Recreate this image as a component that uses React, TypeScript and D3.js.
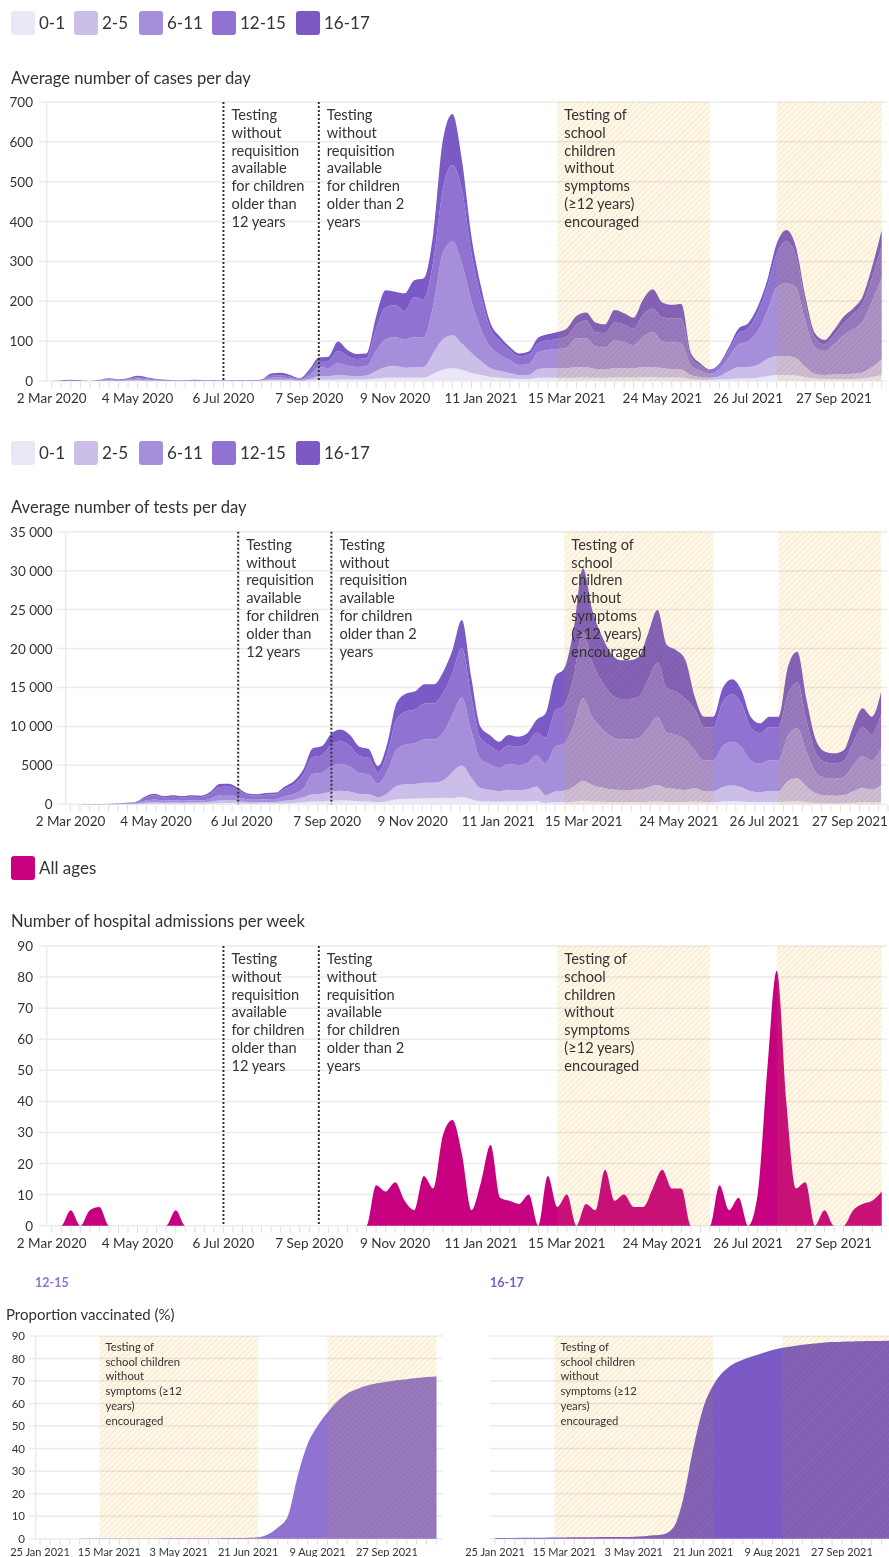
import React from "react";
import * as d3 from "d3";

const FONT = "Lato, 'Open Sans', sans-serif";
const INK = "#333";
const GRID = "#ebebeb";

// ---------- data ----------
const ageGroups = ["0-1", "2-5", "6-11", "12-15", "16-17"];
const ageColors = ["#ece7f6", "#cbbfe9", "#a68fda", "#9073d0", "#7b5ac5"];
const allAgesColor = "#c6007e";

// weekly points, Mondays from 2 Mar 2020 to 1 Nov 2021
const weeks = d3.timeMonday.range(new Date(2020, 2, 2), new Date(2021, 10, 2));

const cases01 = [
  0, 0, 0, 0, 0, 0, 0, 0, 0, 1,
  0, 0, 0, 0, 0, 0, 0, 0, 0, 0,
  0, 0, 0, 1, 1, 1, 0, 2, 3, 3,
  4, 4, 4, 4, 6, 8, 8, 8, 8, 8,
  18, 28, 32, 28, 20, 15, 10, 8, 6, 5,
  5, 8, 8, 8, 8, 9, 9, 8, 8, 9,
  9, 9, 10, 10, 9, 9, 9, 5, 3, 3,
  4, 5, 6, 6, 8, 12, 15, 15, 14, 10,
  6, 5, 5, 5, 5, 6, 10, 15,
];
const cases25 = [
  0, 0, 0, 0, 0, 0, 1, 0, 1, 1,
  1, 1, 0, 0, 0, 0, 0, 0, 0, 0,
  0, 0, 1, 2, 2, 2, 1, 3, 9, 9,
  11, 9, 8, 10, 19, 27, 30, 25, 27, 27,
  52, 77, 83, 66, 50, 35, 22, 17, 14, 10,
  10, 22, 24, 24, 24, 26, 26, 22, 21, 23,
  23, 23, 25, 25, 23, 21, 20, 10, 7, 5,
  8, 20, 29, 29, 32, 43, 48, 48, 44, 25,
  12, 10, 11, 12, 13, 16, 25, 40,
];
const cases611 = [
  0, 0, 1, 0, 0, 1, 2, 1, 2, 4,
  3, 1, 1, 1, 1, 1, 1, 0, 0, 1,
  1, 1, 1, 5, 6, 4, 2, 8, 23, 20,
  30, 25, 23, 23, 50, 70, 72, 72, 75, 75,
  120, 215, 235, 201, 130, 80, 53, 40, 32, 25,
  27, 42, 46, 48, 52, 72, 72, 57, 55, 70,
  65, 58, 77, 87, 68, 67, 66, 24, 16, 10,
  18, 35, 57, 65, 85, 120, 172, 182, 177, 115,
  67, 60, 76, 98, 112, 128, 165, 205,
];
const cases1215 = [
  0, 0, 1, 0, 0, 1, 2, 1, 2, 3,
  2, 1, 1, 0, 0, 1, 0, 1, 0, 0,
  0, 0, 1, 5, 5, 4, 2, 7, 15, 18,
  30, 24, 20, 20, 55, 80, 80, 70, 100, 95,
  110, 160, 192, 184, 120, 80, 45, 35, 26, 22,
  24, 23, 24, 25, 28, 35, 45, 35, 36, 45,
  45, 42, 55, 60, 60, 60, 62, 20, 12, 7,
  10, 18, 28, 32, 47, 60, 85, 105, 80, 45,
  23, 17, 23, 30, 38, 45, 60, 80,
];
const cases1617 = [
  0, 1, 1, 1, 0, 1, 2, 2, 2, 4,
  3, 2, 1, 1, 1, 1, 1, 1, 1, 1,
  1, 1, 1, 6, 7, 4, 2, 8, 9, 11,
  24, 16, 13, 12, 31, 43, 34, 45, 43, 53,
  70, 124, 128, 75, 42, 27, 15, 11, 8, 7,
  8, 14, 15, 18, 20, 21, 20, 25, 22, 31,
  28, 27, 38, 48, 37, 34, 36, 11, 6, 4,
  4, 8, 12, 13, 14, 18, 25, 29, 22, 17,
  12, 11, 13, 16, 14, 17, 27, 39,
];

const tests01 = [
  0, 1, 2, 2, 3, 6, 12, 18, 60, 80,
  60, 70, 60, 70, 66, 100, 160, 160, 130, 84,
  78, 87, 90, 138, 180, 270, 360, 375, 460, 480,
  450, 370, 360, 250, 390, 650, 710, 725, 770, 770,
  850, 790, 950, 660, 400, 360, 320, 360, 350, 360,
  430, 180, 250, 260, 340, 450, 370, 330, 290, 280,
  280, 280, 330, 370, 310, 300, 280, 350, 280, 280,
  370, 400, 370, 280, 260, 280, 280, 350, 390, 270,
  170, 140, 130, 140, 200, 250, 230, 290,
];
const tests25 = [
  0, 3, 4, 6, 7, 14, 28, 42, 140, 190,
  150, 160, 150, 160, 154, 220, 340, 370, 290, 196,
  182, 203, 210, 322, 420, 630, 940, 975, 1180, 1250,
  1160, 960, 920, 640, 1010, 1690, 1850, 1885, 2000, 2000,
  2210, 3370, 4020, 2790, 1690, 1510, 1370, 1510, 1480, 1550,
  1840, 990, 1390, 1480, 1900, 2580, 2120, 1840, 1650, 1570,
  1570, 1610, 1870, 2120, 1740, 1680, 1570, 1730, 1410, 1410,
  1860, 2010, 1830, 1410, 1300, 1410, 1410, 2650, 2940, 2010,
  1240, 1010, 980, 1050, 1490, 1850, 1690, 2170,
];
const tests611 = [
  0, 5, 8, 10, 12, 25, 50, 75, 250, 340,
  260, 290, 260, 290, 275, 400, 650, 660, 530, 350,
  325, 363, 375, 575, 750, 1125, 2590, 2700, 3280, 3450,
  3200, 2660, 2560, 1760, 2810, 4680, 5110, 5220, 5550, 5550,
  6120, 7330, 8750, 6070, 3690, 3290, 2970, 3290, 3210, 3370,
  4000, 4090, 5730, 6110, 7840, 10600, 8730, 7600, 6790, 6480,
  6480, 6630, 7680, 8730, 7160, 6930, 6480, 4840, 3940, 3940,
  5210, 5610, 5130, 3940, 3640, 3940, 3940, 5830, 6470, 4410,
  2720, 2230, 2160, 2300, 3290, 4060, 3710, 4770,
];
const tests1215 = [
  0, 8, 12, 16, 20, 40, 80, 120, 400, 540,
  420, 460, 420, 460, 440, 640, 1070, 1060, 840, 560,
  520, 580, 600, 920, 1200, 1800, 2160, 2250, 2730, 2880,
  2670, 2220, 2130, 1470, 2340, 3900, 4260, 4350, 4620, 4620,
  5100, 5340, 6380, 4420, 2690, 2400, 2170, 2400, 2340, 2460,
  2920, 3270, 4590, 4890, 6270, 8490, 6990, 6070, 5430, 5180,
  5180, 5310, 6150, 6990, 5720, 5540, 5180, 5250, 4270, 4270,
  5660, 6100, 5580, 4270, 3950, 4270, 4270, 5300, 5880, 4010,
  2470, 2030, 1960, 2090, 2990, 3700, 3370, 4340,
];
const tests1617 = [
  0, 3, 4, 6, 8, 15, 30, 45, 150, 200,
  160, 170, 160, 170, 165, 240, 380, 400, 310, 210,
  195, 217, 225, 345, 450, 675, 1150, 1200, 1450, 1540,
  1420, 1190, 1130, 780, 1250, 2080, 2270, 2320, 2460, 2460,
  2720, 2970, 3550, 2460, 1490, 1340, 1210, 1340, 1300, 1360,
  1630, 3150, 4420, 4720, 6050, 8180, 6740, 5860, 5240, 4990,
  4990, 5120, 5920, 6740, 5520, 5350, 4990, 1650, 1350, 1350,
  1790, 1920, 1760, 1350, 1250, 1350, 1350, 3540, 3920, 2680,
  1650, 1350, 1310, 1390, 1990, 2460, 2250, 2890,
];

const admissions = [
  0, 0, 5, 0, 5, 6, 0, 0, 0, 0,
  0, 0, 0, 5, 0, 0, 0, 0, 0, 0,
  0, 0, 0, 0, 0, 0, 0, 0, 0, 0,
  0, 0, 0, 0, 13, 11, 14, 8, 5, 16,
  12, 29, 34, 23, 5, 14, 26, 9, 8, 7,
  10, 0, 16, 6, 10, 0, 7, 5, 18, 8,
  10, 6, 6, 12, 18, 12, 12, 0, 0, 0,
  13, 5, 9, 0, 10, 50, 82, 40, 12, 14,
  0, 5, 0, 0, 5, 7, 8, 11,
];

// vaccination, weekly from 25 Jan 2021 to 1 Nov 2021 (%)
const vaccWeeks = d3.timeMonday.range(new Date(2021, 0, 25), new Date(2021, 10, 2));
const vacc1215 = [
  0, 0, 0, 0, 0, 0.05, 0.05, 0.05, 0.1, 0.1,
  0.1, 0.1, 0.1, 0.15, 0.15, 0.2, 0.2, 0.2, 0.25, 0.3,
  0.3, 0.4, 0.6, 2, 5, 10, 28, 42, 50, 56,
  61, 64.5, 66.5, 68, 69, 69.7, 70.3, 70.8, 71.3, 71.8,
  72,
];
const vacc1617 = [
  0.3, 0.3, 0.35, 0.4, 0.4, 0.45, 0.5, 0.55, 0.6, 0.6,
  0.65, 0.7, 0.75, 0.8, 0.9, 1.1, 1.5, 2, 5, 18,
  40, 58, 68, 74, 77.5, 79.5, 81, 82.5, 83.8, 84.8,
  85.5, 86.1, 86.6, 87, 87.3, 87.5, 87.6, 87.7, 87.8, 87.8,
  87.9,
];

const dateTicks = ["2020-03-02", "2020-05-04", "2020-07-06", "2020-09-07", "2020-11-09",
  "2021-01-11", "2021-03-15", "2021-05-24", "2021-07-26", "2021-09-27"];
const vaccTicks = ["2021-01-25", "2021-03-15", "2021-05-03", "2021-06-21", "2021-08-09", "2021-09-27"];

const testingChanges = [
  { date: "2020-07-06", lines: ["Testing", "without", "requisition", "available", "for children", "older than", "12 years"] },
  { date: "2020-09-14", lines: ["Testing", "without", "requisition", "available", "for children", "older than 2", "years"] },
];
const schoolPeriods = [["2021-03-08", "2021-06-28"], ["2021-08-16", "2021-11-01"]];
const schoolLines = ["Testing of", "school", "children", "without", "symptoms", "(≥12 years)", "encouraged"];
const schoolLinesVacc = ["Testing of", "school children", "without", "symptoms (≥12", "years)", "encouraged"];

// ---------- helpers ----------
const parse = d3.timeParse("%Y-%m-%d");
const fmtDate = d3.timeFormat("%-d %b %Y");
const spaced = (v: number) => (v >= 10000 ? d3.format(",")(v).replace(",", " ") : String(v));

function Legend({ y, items }: { y: number; items: { label: string; color: string; x: number }[] }) {
  return (
    <g>
      {items.map((it) => (
        <g key={it.label}>
          <rect x={it.x} y={y} width={24} height={24} rx={3} fill={it.color} />
          <text x={it.x + 28} y={y + 18} fontSize={17} fill={INK}>{it.label}</text>
        </g>
      ))}
    </g>
  );
}

// school-testing shading: a multiplied hatch plus a faint light wash on top
function Shade({ x, y, w, h }: { x: number; y: number; w: number; h: number }) {
  return (
    <g>
      <rect x={x} y={y} width={w} height={h} fill="url(#hatch)" style={{ mixBlendMode: "multiply" }} />
      <rect x={x} y={y} width={w} height={h} fill="#fff0c8" fillOpacity={0.07} />
    </g>
  );
}

type Cfg = {
  title: string; titleY: number; top: number; bottom: number;
  axisX: number; labelRight: number; gridLeft: number;
  yMax: number; yStep: number; xRange: [number, number]; tickRange?: [number, number];
};

function TimeChart({ cfg, series }: { cfg: Cfg; series: { key: string; color: string; values: number[] }[] }) {
  const x = d3.scaleTime().domain([weeks[0], weeks[weeks.length - 1]]).range(cfg.xRange);
  const xt = cfg.tickRange ? x.copy().range(cfg.tickRange) : x;
  const y = d3.scaleLinear().domain([0, cfg.yMax]).range([cfg.bottom, cfg.top]);

  const rows = weeks.map((d, i) => {
    const r: any = { date: d };
    series.forEach((s) => (r[s.key] = s.values[i]));
    return r;
  });
  const layers = d3.stack().keys(series.map((s) => s.key))(rows);
  const area = d3.area<any>()
    .x((d) => x(d.data.date))
    .y0((d) => y(d[0]))
    .y1((d) => y(d[1]))
    .curve(d3.curveMonotoneX);

  const yTicks = d3.range(0, cfg.yMax + 1, cfg.yStep);
  const minor = d3.timeMonday.range(xt.domain()[0], d3.timeDay.offset(xt.domain()[1], 1));
  const schoolX = x(parse(schoolPeriods[0][0])!) + 7;

  return (
    <g>
      <text x={11} y={cfg.titleY} fontSize={16.6} fill={INK}>{cfg.title}</text>
      {yTicks.map((t) => (
        <g key={t}>
          <line x1={cfg.gridLeft} x2={887} y1={y(t)} y2={y(t)} stroke={GRID} strokeWidth={1.5} />
          <text x={cfg.labelRight} y={y(t) + 5} textAnchor="end" fontSize={13.5} fill={INK}>{spaced(t)}</text>
        </g>
      ))}
      <line x1={cfg.axisX} x2={cfg.axisX} y1={cfg.top} y2={cfg.bottom} stroke={GRID} strokeWidth={1.5} />
      {layers.map((l, i) => (
        <path key={l.key} d={area(l) || ""} fill={series[i].color} />
      ))}
      {schoolPeriods.map(([a, b]) => (
        <Shade key={a} x={x(parse(a)!)} y={cfg.top} w={x(parse(b)!) - x(parse(a)!)} h={cfg.bottom - cfg.top} />
      ))}
      {testingChanges.map((c) => {
        const cx = x(parse(c.date)!);
        return (
          <g key={c.date}>
            <line x1={cx} x2={cx} y1={cfg.top} y2={cfg.bottom} stroke="#333" strokeWidth={2} strokeDasharray="2 2" />
            <text x={cx + 8} y={cfg.top + 18} fontSize={14.6} fill={INK}>
              {c.lines.map((s, i) => (
                <tspan key={i} x={cx + 8} dy={i === 0 ? 0 : 17.8}>{s}</tspan>
              ))}
            </text>
          </g>
        );
      })}
      <text x={schoolX} y={cfg.top + 18} fontSize={14.6} fill={INK}>
        {schoolLines.map((s, i) => (
          <tspan key={i} x={schoolX} dy={i === 0 ? 0 : 17.8}>{s}</tspan>
        ))}
      </text>
      {minor.map((d) => (
        <line key={+d} x1={xt(d)} x2={xt(d)} y1={cfg.bottom + 1} y2={cfg.bottom + 7} stroke="#ddd" strokeWidth={1} />
      ))}
      {dateTicks.map((s) => (
        <text key={s} x={xt(parse(s)!)} y={cfg.bottom + 22} textAnchor="middle" fontSize={13.5} fill={INK}>
          {fmtDate(parse(s)!)}
        </text>
      ))}
    </g>
  );
}

function VaccChart({ left, values, color, label, showAxis }: {
  left: number; values: number[]; color: string; label: string; showAxis: boolean;
}) {
  const top = 1336, bottom = 1538.7;
  const x = d3.scaleTime().domain([vaccWeeks[0], vaccWeeks[vaccWeeks.length - 1]]).range([left + 4.3, left + 400.8]);
  const y = d3.scaleLinear().domain([0, 90]).range([bottom, top]);
  const area = d3.area<number>()
    .x((_, i) => x(vaccWeeks[i]))
    .y0(bottom)
    .y1((v) => y(v))
    .curve(d3.curveMonotoneX);
  const ticks = d3.range(0, 91, 10);
  const gridL = showAxis ? left - 6.7 : left - 1;
  const minor = d3.timeMonday.range(x.domain()[0], d3.timeDay.offset(x.domain()[1], 1));
  const sx = x(parse(schoolPeriods[0][0])!) + 6;
  return (
    <g>
      <text x={left - 0.7} y={1287} fontSize={12.5} fontWeight={700} fill={color}>{label}</text>
      {ticks.map((t) => (
        <g key={t}>
          <line x1={gridL} x2={left + 407} y1={y(t)} y2={y(t)} stroke={GRID} strokeWidth={1.5} />
          {showAxis && (
            <text x={left - 10.7} y={y(t) + 4} textAnchor="end" fontSize={11.5} fill={INK}>{t}</text>
          )}
        </g>
      ))}
      {showAxis && <line x1={left} x2={left} y1={top} y2={bottom} stroke={GRID} strokeWidth={1.5} />}
      <path d={area(values) || ""} fill={color} />
      {schoolPeriods.map(([a, b]) => (
        <Shade key={a} x={x(parse(a)!)} y={top} w={x(parse(b)!) - x(parse(a)!)} h={bottom - top} />
      ))}
      <text x={sx} y={1351} fontSize={11.3} fill={INK}>
        {schoolLinesVacc.map((s, i) => (
          <tspan key={i} x={sx} dy={i === 0 ? 0 : 14.7}>{s}</tspan>
        ))}
      </text>
      {minor.map((d) => (
        <line key={+d} x1={x(d)} x2={x(d)} y1={bottom + 1} y2={bottom + 6} stroke="#ddd" strokeWidth={1} />
      ))}
      {vaccTicks.map((s) => (
        <text key={s} x={x(parse(s)!)} y={1556} textAnchor="middle" fontSize={11} fill={INK}>
          {fmtDate(parse(s)!)}
        </text>
      ))}
    </g>
  );
}

const legendXs = [11, 74, 139, 212, 296];

export default function App() {
  const ageLegend = ageGroups.map((g, i) => ({ label: g, color: ageColors[i], x: legendXs[i] }));
  const caseSeries = [cases01, cases25, cases611, cases1215, cases1617].map((v, i) => ({
    key: ageGroups[i], color: ageColors[i], values: v,
  }));
  const testSeries = [tests01, tests25, tests611, tests1215, tests1617].map((v, i) => ({
    key: ageGroups[i], color: ageColors[i], values: v,
  }));
  return (
    <div style={{ position: "absolute", left: 0, top: 0 }}>
      <svg width={889} height={1557} style={{ display: "block", fontFamily: FONT, background: "#fff" }}>
        <defs>
          <pattern id="hatch" patternUnits="userSpaceOnUse" width={4} height={4} patternTransform="rotate(45)">
            <rect width={4} height={4} fill="#fef9ee" />
            <line x1={0} y1={0} x2={0} y2={4} stroke="#f4e0b6" strokeWidth={1.3} />
          </pattern>
        </defs>
        <Legend y={11} items={ageLegend} />
        <TimeChart
          cfg={{ title: "Average number of cases per day", titleY: 84, top: 102, bottom: 381, axisX: 46.7,
            labelRight: 33, gridLeft: 38.7, yMax: 700, yStep: 100, xRange: [51.7, 881.7] }}
          series={caseSeries}
        />
        <Legend y={441} items={ageLegend} />
        <TimeChart
          cfg={{ title: "Average number of tests per day", titleY: 513, top: 531.7, bottom: 804.3, axisX: 65.7,
            labelRight: 52.7, gridLeft: 57.3, yMax: 35000, yStep: 5000, xRange: [70.5, 881.1], tickRange: [70.5, 897.5] }}
          series={testSeries}
        />
        <Legend y={856} items={[{ label: "All ages", color: allAgesColor, x: 11 }]} />
        <TimeChart
          cfg={{ title: "Number of hospital admissions per week", titleY: 927, top: 946, bottom: 1225.7, axisX: 46.7,
            labelRight: 33, gridLeft: 38.7, yMax: 90, yStep: 10, xRange: [51.7, 881.7] }}
          series={[{ key: "All ages", color: allAgesColor, values: admissions }]}
        />
        <text x={6} y={1320} fontSize={15} fill={INK}>Proportion vaccinated (%)</text>
        <VaccChart left={35.7} values={vacc1215} color={ageColors[3]} label="12-15" showAxis={true} />
        <VaccChart left={490.7} values={vacc1617} color={ageColors[4]} label="16-17" showAxis={false} />
      </svg>
    </div>
  );
}
